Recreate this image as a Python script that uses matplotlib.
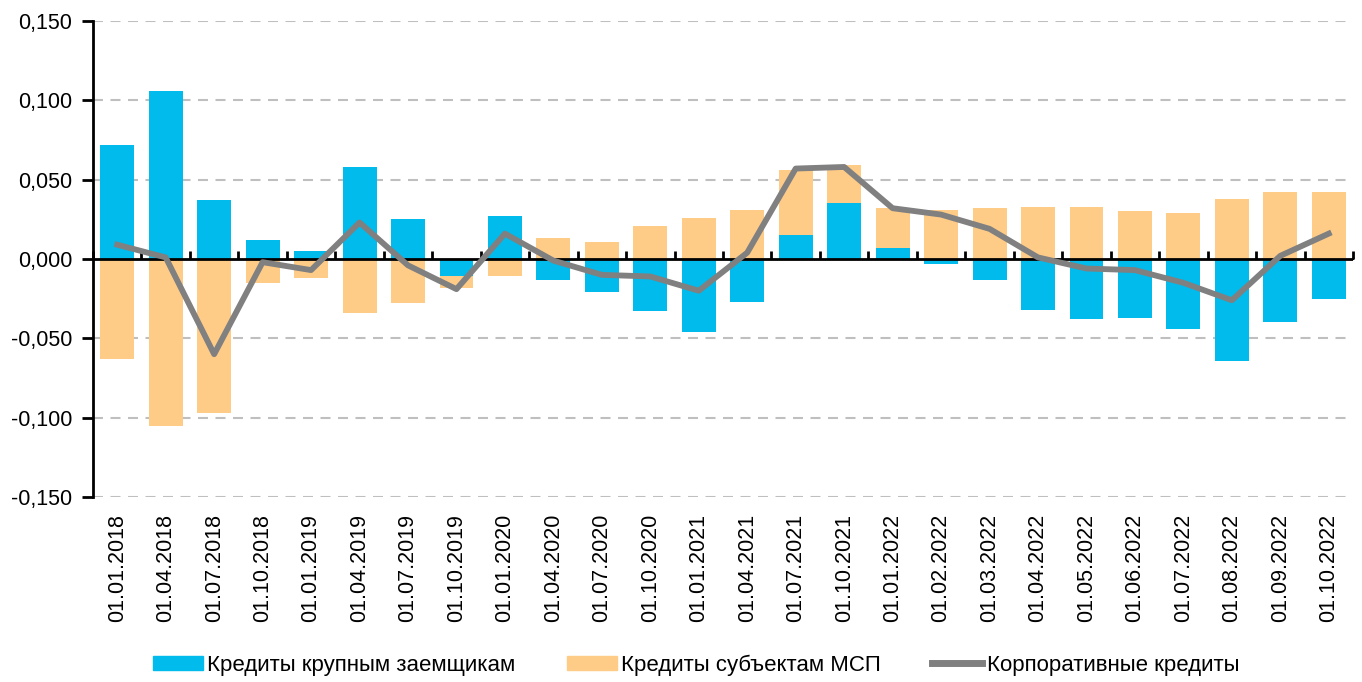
import numpy as np
import matplotlib
matplotlib.use("Agg")
import matplotlib.pyplot as plt
from matplotlib.ticker import FuncFormatter
from matplotlib.lines import Line2D
from matplotlib.patches import Patch

categories = ["01.01.2018", "01.04.2018", "01.07.2018", "01.10.2018", "01.01.2019",
              "01.04.2019", "01.07.2019", "01.10.2019", "01.01.2020", "01.04.2020",
              "01.07.2020", "01.10.2020", "01.01.2021", "01.04.2021", "01.07.2021",
              "01.10.2021", "01.01.2022", "01.02.2022", "01.03.2022", "01.04.2022",
              "01.05.2022", "01.06.2022", "01.07.2022", "01.08.2022", "01.09.2022",
              "01.10.2022"]
large_borrowers = [0.072, 0.106, 0.037, 0.012, 0.005, 0.058, 0.025, -0.011, 0.027, -0.013,
                   -0.021, -0.033, -0.046, -0.027, 0.015, 0.035, 0.007, -0.003, -0.013, -0.032,
                   -0.038, -0.037, -0.044, -0.064, -0.040, -0.025]
sme_loans = [-0.063, -0.105, -0.097, -0.015, -0.012, -0.034, -0.028, -0.007, -0.011, 0.013,
             0.011, 0.021, 0.026, 0.031, 0.041, 0.024, 0.025, 0.031, 0.032, 0.033,
             0.033, 0.030, 0.029, 0.038, 0.042, 0.042]
corporate = [0.009, 0.001, -0.060, -0.002, -0.007, 0.023, -0.004, -0.019, 0.016, -0.001,
             -0.010, -0.011, -0.020, 0.004, 0.057, 0.058, 0.032, 0.028, 0.019, 0.001,
             -0.006, -0.007, -0.015, -0.026, 0.002, 0.016]
series_names = ["Кредиты крупным заемщикам", "Кредиты субъектам МСП", "Корпоративные кредиты"]
yticks = [-0.15, -0.10, -0.05, 0.0, 0.05, 0.10, 0.15]

BLUE = "#00BBEC"
ORANGE = "#FFCC88"
GRAY = "#808080"

plt.rcParams['font.family'] = ['Liberation Sans', 'DejaVu Sans']

fig = plt.figure(figsize=(13.62, 6.82), dpi=100)
W, H = 1362, 682
ax = fig.add_axes([93 / W, (H - 497) / H, 1260 / W, 476 / H])

x = np.arange(len(categories))
lb = np.array(large_borrowers)
sm = np.array(sme_loans)
# Excel-like stacking: positives stack on positives, negatives on negatives
sm_bottom = np.where(np.sign(sm) == np.sign(lb), lb, 0.0)
bw = 0.7
ax.bar(x, lb, width=bw, color=BLUE, zorder=2)
ax.bar(x, sm, width=bw, bottom=sm_bottom, color=ORANGE, zorder=2)
ax.plot(x, corporate, color=GRAY, lw=4.2, zorder=4)

ax.set_xlim(-0.5, len(categories) - 0.5)
ax.set_ylim(-0.15, 0.15)

# grid
for v in yticks:
    if v != 0:
        ax.axhline(v, color="#BFBFBF", lw=1.5, ls=(0, (4.8, 3.6)), zorder=1)
ax.axhline(0, color="black", lw=2, zorder=3)

for s in ["top", "right", "bottom"]:
    ax.spines[s].set_visible(False)
ax.spines["left"].set_linewidth(2)
ax.spines["left"].set_zorder(5)

ax.set_yticks(yticks)
ax.yaxis.set_major_formatter(FuncFormatter(lambda v, p: f"{v:.3f}".replace(".", ",").replace("-0,000", "0,000")))
ax.tick_params(axis="y", length=8, width=2, pad=7, labelsize=15.5, colors="black")

ax.set_xticks(x)
ax.set_xticklabels(categories, rotation=90, fontsize=15.5)
ax.tick_params(axis="x", length=0, pad=12)

sec = ax.secondary_xaxis(0.5)
sec.set_xticks(np.arange(len(categories) + 1) - 0.5)
sec.set_xticklabels([])
sec.tick_params(axis="x", length=6, width=2, direction="out")
sec.spines["bottom"].set_visible(False)

handles = [Patch(color=BLUE), Patch(color=ORANGE), Line2D([], [], color=GRAY, lw=5)]
fig.legend(handles, series_names, loc="center", bbox_to_anchor=(696 / W, 1 - 665 / H),
           ncol=3, frameon=False, handlelength=2.25, handleheight=0.6,
           handletextpad=0.2, columnspacing=2.3,
           prop={'family': ['Liberation Sans', 'DejaVu Sans'], 'size': 16})

fig.savefig("out.png", dpi=100)
